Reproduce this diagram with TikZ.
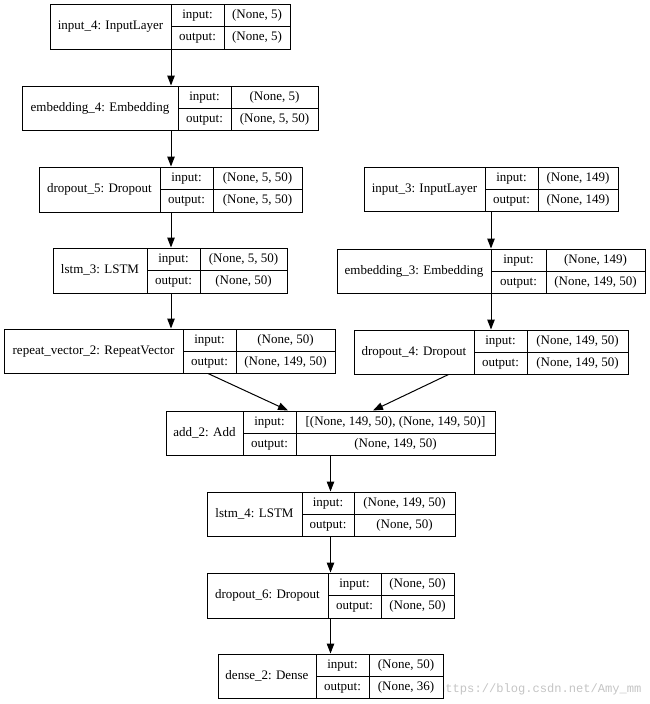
\documentclass[tikz,border=0pt]{standalone}
\usepackage{fontspec}
\setmainfont{Liberation Serif}
\newfontfamily\markfont{Liberation Mono}
\usetikzlibrary{arrows.meta,fit}
\definecolor{markGray}{HTML}{C4C4C4}

\begin{document}
\begin{tikzpicture}[x=1pt,y=-1pt,
  layer/.style={draw, fill=white, line width=1pt, inner sep=0pt},
  cell/.style={line width=1pt},
  txt/.style={inner sep=0pt, text height=9.2pt, text depth=3pt, font=\fontsize{13}{15}\selectfont},
  flow/.style={line width=1pt, -{Triangle[length=10pt,width=7.5pt]}}]
\useasboundingbox (0,0) rectangle (650,704);
\node[anchor=west, text=markGray, font=\markfont\fontsize{12.1}{13}\selectfont, inner sep=0pt] (wmark) at (438,689) {https://blog.csdn.net/Amy\_mm};
\foreach \nm/\xl/\xa/\xb/\xr/\yt/\yb/\lab/\vin/\vout in {
  in4/50/171/224/290/4/49/{input\_4: InputLayer}/{(None, 5)}/{(None, 5)},
  emb4/22/178/231/318/86/130/{embedding\_4: Embedding}/{(None, 5)}/{(None, 5, 50)},
  drop5/39/160/213/302/167/212/{dropout\_5: Dropout}/{(None, 5, 50)}/{(None, 5, 50)},
  lstm3/53/147/200/287/248/293/{lstm\_3: LSTM}/{(None, 5, 50)}/{(None, 50)},
  rep2/4/183/236/335/329/373/{repeat\_vector\_2: RepeatVector}/{(None, 50)}/{(None, 149, 50)},
  in3/364/485/538/618/167/211/{input\_3: InputLayer}/{(None, 149)}/{(None, 149)},
  emb3/337/491/546/645/249/293/{embedding\_3: Embedding}/{(None, 149)}/{(None, 149, 50)},
  drop4/354/474/527/628/330/374/{dropout\_4: Dropout}/{(None, 149, 50)}/{(None, 149, 50)},
  add2/166/243/296/495/411/455/{add\_2: Add}/{[(None, 149, 50), (None, 149, 50)]}/{(None, 149, 50)},
  lstm4/207/302/354/455/492/536/{lstm\_4: LSTM}/{(None, 149, 50)}/{(None, 50)},
  drop6/207/328/381/454/573/618/{dropout\_6: Dropout}/{(None, 50)}/{(None, 50)},
  dense2/218/316/369/443/654/698/{dense\_2: Dense}/{(None, 50)}/{(None, 36)}} {
  \node[layer, fit={(\xl,\yt) (\xr,\yb)}] (\nm) {};
  \draw[cell] (\xa,\yt) -- (\xa,\yb) (\xb,\yt) -- (\xb,\yb)
    (\xa,{(\yt+\yb)/2}) -- (\xr,{(\yt+\yb)/2});
  \node[txt] (\nm-lab) at ({(\xl+\xa)/2},{(\yt+\yb)/2}) {\lab};
  \node[txt] (\nm-ik) at ({(\xa+\xb)/2},{(3*\yt+\yb)/4}) {input:};
  \node[txt] (\nm-ok) at ({(\xa+\xb)/2},{(\yt+3*\yb)/4}) {output:};
  \node[txt] (\nm-iv) at ({(\xb+\xr)/2},{(3*\yt+\yb)/4}) {\vin};
  \node[txt] (\nm-ov) at ({(\xb+\xr)/2},{(\yt+3*\yb)/4}) {\vout};
}
% columns of the straight edges
\coordinate (colL) at (171,0);
\coordinate (colR) at (491,0);
\coordinate (colM) at (330.5,0);
\draw[flow] (in4.south -| colL) -- (emb4.north -| colL);
\draw[flow] (emb4.south -| colL) -- (drop5.north -| colL);
\draw[flow] (drop5.south -| colL) -- (lstm3.north -| colL);
\draw[flow] (lstm3.south -| colL) -- (rep2.north -| colL);
\draw[flow] (in3.south -| colR) -- (emb3.north -| colR);
\draw[flow] (emb3.south -| colR) -- (drop4.north -| colR);
\draw[flow] ([xshift=38.5pt]rep2.south) -- ([xshift=-42.5pt]add2.north);
\draw[flow] ([xshift=-42.5pt]drop4.south) -- ([xshift=42.5pt]add2.north);
\draw[flow] (add2.south -| colM) -- (lstm4.north -| colM);
\draw[flow] (lstm4.south -| colM) -- (drop6.north -| colM);
\draw[flow] (drop6.south -| colM) -- (dense2.north -| colM);
\end{tikzpicture}
\end{document}
